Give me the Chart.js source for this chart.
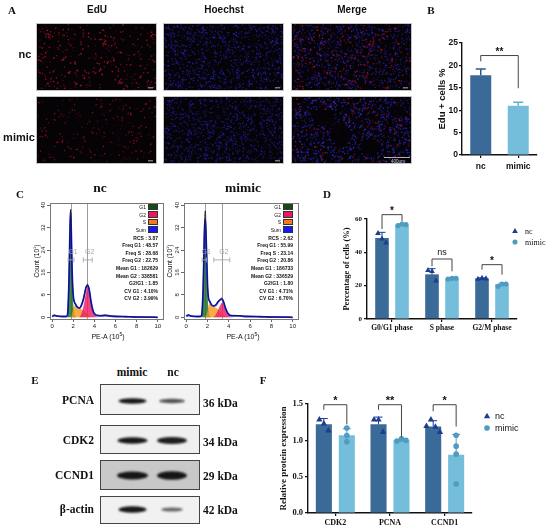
<!DOCTYPE html>
<html lang="en">
<head>
<meta charset="UTF-8" />
<title>EdU, cell cycle and protein expression</title>
<script src="https://cdn.jsdelivr.net/npm/chart.js@4.4.0/dist/chart.umd.min.js"></script>
<style>
  body { margin: 0; background: #fff; }
  #fig { position: relative; width: 550px; height: 532px; overflow: hidden; }
  #fig canvas { position: absolute; }
  .t { position: absolute; white-space: nowrap; line-height: 1; color: #111; }
</style>
</head>
<body>
<div id="fig">
  <canvas id="micro" width="420" height="170" style="left:0;top:0"></canvas>
  <canvas id="eduChart" width="115" height="152" style="left:430px;top:30px"></canvas>
  <canvas id="histNc" width="140" height="134" style="left:28px;top:198px"></canvas>
  <canvas id="histMimic" width="140" height="134" style="left:163px;top:198px"></canvas>
  <canvas id="phaseChart" width="212" height="140" style="left:338px;top:200px"></canvas>
  <canvas id="blot" width="110" height="150" style="left:95px;top:380px"></canvas>
  <canvas id="protChart" width="273" height="144" style="left:277px;top:388px"></canvas>
</div>
<script>
// ---------- data ----------
// B: EdU positive cells
const eduGroups = ['nc', 'mimic'];
const eduMean = [17.8, 11.0];
const eduSd = [1.4, 0.8];
const eduTicks = [0, 5, 10, 15, 20, 25];
const eduSig = '**';
const eduBracket = [22.2, 20.9, 14.9];

// C: PI histograms (PE-A in 10^5, count in 10^1)
const peA = [0, 0.2, 0.5, 1.0, 1.3, 1.4, 1.5, 1.6, 1.7, 1.75, 1.8, 1.9, 2.0, 2.1, 2.2, 2.4, 2.6, 2.8, 3.0, 3.2, 3.35, 3.5, 3.7, 3.9, 4.1, 4.3, 4.6, 5.0, 5.5, 6.0, 7.0, 8.0, 9.0, 10.0];
const ncData = [0.4, 0.9, 0.5, 0.3, 0.3, 0.5, 2.5, 14, 33, 38.5, 33, 15, 7.5, 5.5, 4.8, 3.6, 3.4, 4.6, 7.2, 10.8, 11.8, 10.2, 5.2, 2.2, 1.0, 0.8, 0.7, 0.9, 0.6, 0.4, 0.3, 0.2, 0.1, 0];
const ncSum = [0.3, 0.6, 0.4, 0.3, 0.3, 0.4, 2.6, 13.5, 32, 37.5, 32.5, 15.5, 7.8, 5.6, 4.8, 3.6, 3.3, 4.5, 7.0, 10.4, 11.4, 10.0, 5.3, 2.0, 0.9, 0.6, 0.5, 0.6, 0.4, 0.3, 0.2, 0.1, 0.1, 0];
const ncG1 = [0, 0, 0, 0, 0, 0, 2.5, 13, 31, 37, 32, 14, 5, 1.5, 0.3, 0, 0, 0, 0, 0, 0, 0, 0, 0, 0, 0, 0, 0, 0, 0, 0, 0, 0, 0];
const ncS = [0, 0, 0, 0, 0, 0, 0, 0, 0, 0, 0, 1.5, 2.8, 4.0, 4.5, 3.6, 3.2, 2.8, 2.4, 1.6, 1.0, 0.5, 0.1, 0, 0, 0, 0, 0, 0, 0, 0, 0, 0, 0];
const ncG2 = [0, 0, 0, 0, 0, 0, 0, 0, 0, 0, 0, 0, 0, 0, 0, 0, 0.1, 1.6, 4.5, 8.8, 10.4, 9.5, 5.2, 1.9, 0.5, 0.1, 0, 0, 0, 0, 0, 0, 0, 0];
const mimicData = [0.6, 1.0, 0.5, 0.3, 0.3, 0.4, 2.0, 11, 29, 36, 38, 26, 12, 6.8, 5.8, 4.4, 4.0, 4.6, 5.6, 6.5, 6.9, 5.8, 3.2, 1.6, 0.8, 0.7, 0.7, 0.6, 0.4, 0.3, 0.2, 0.2, 0.1, 0];
const mimicSum = [0.4, 0.7, 0.4, 0.3, 0.3, 0.4, 2.0, 10.5, 27, 33, 35, 25, 12, 6.8, 5.8, 4.4, 4.1, 4.4, 5.5, 6.3, 6.5, 5.6, 3.2, 1.5, 0.7, 0.5, 0.5, 0.5, 0.3, 0.3, 0.2, 0.1, 0.1, 0];
const mimicG1 = [0, 0, 0, 0, 0, 0, 2.0, 10.5, 27, 33, 34.5, 24, 10, 3, 0.8, 0, 0, 0, 0, 0, 0, 0, 0, 0, 0, 0, 0, 0, 0, 0, 0, 0, 0, 0];
const mimicS = [0, 0, 0, 0, 0, 0, 0, 0, 0, 0, 0, 1.0, 2.0, 3.8, 5.0, 4.4, 3.9, 3.4, 2.8, 2.0, 1.3, 0.8, 0.3, 0.1, 0, 0, 0, 0, 0, 0, 0, 0, 0, 0];
const mimicG2 = [0, 0, 0, 0, 0, 0, 0, 0, 0, 0, 0, 0, 0, 0, 0, 0, 0.2, 1.0, 2.7, 4.3, 5.2, 4.8, 2.9, 1.4, 0.5, 0.1, 0, 0, 0, 0, 0, 0, 0, 0];
const histXTicks = [0, 2, 4, 6, 8, 10];
const histYTicks = [0, 8, 16, 24, 32, 40];
const ncPeaks = [1.75, 3.33];
const ncGates = [[1.52, 2.07], [2.95, 3.8]];
const mimicPeaks = [1.81, 3.35];
const mimicGates = [[1.5, 1.9], [2.6, 4.1]];
const ncStats = ['RCS : 3.87', 'Freq G1 : 48.57', 'Freq S : 28.68', 'Freq G2 : 22.75', 'Mean G1 : 182629', 'Mean G2 : 338581', 'G2/G1 : 1.85', 'CV G1 : 4.10%', 'CV G2 : 3.99%'];
const mimicStats = ['RCS : 2.62', 'Freq G1 : 55.99', 'Freq S : 23.14', 'Freq G2 : 20.86', 'Mean G1 : 186733', 'Mean G2 : 336529', 'G2/G1 : 1.80', 'CV G1 : 4.71%', 'CV G2 : 6.70%'];

// D: cell cycle phases (%)
const phaseLabels = ['G0/G1 phase', 'S phase', 'G2/M phase'];
const phaseNcMean = [48.6, 26.8, 24.4];
const phaseMimicMean = [56.5, 24.3, 20.8];
const phaseNcSd = [3.4, 3.4, 0.3];
const phaseMimicSd = [0.4, 0.2, 0.7];
const phaseNcPts = [[51.6, 48.3, 46.0], [29.4, 28.8, 23.2], [24.2, 24.7, 24.4]];
const phaseMimicPts = [[56.0, 57.0, 56.6], [24.0, 24.4, 24.4], [19.6, 21.0, 21.0]];
const phaseTicks = [0, 20, 40, 60];
const phaseSig = ['*', 'ns', '*'];
const phaseBracket = [[62.6, 54, 58.6], [36, 31.6, 28.6], [32.6, 29.6, 26.6]];

// F: relative protein expression
const protLabels = ['CDK2', 'PCNA', 'CCND1'];
const protNcMean = [1.22, 1.22, 1.19];
const protMimicMean = [1.07, 1.00, 0.80];
const protNcSd = [0.08, 0.10, 0.08];
const protMimicSd = [0.09, 0.01, 0.28];
const protNcPts = [[1.29, 1.235, 1.14], [1.29, 1.29, 1.12], [1.20, 1.29, 1.19, 1.12]];
const protMimicPts = [[1.17, 1.065, 0.98], [0.99, 1.02, 1.0], [1.07, 0.92, 0.81, 0.40]];
const protTicks = [0, 0.5, 1.0, 1.5];
const protTickLabels = ['0.0', '0.5', '1.0', '1.5'];
const protSig = ['*', '**', '*'];
const protBracket = [[1.49, 1.42, 1.22], [1.49, 1.42, 1.04], [1.49, 1.40, 1.19]];

// ---------- styles ----------
const DARK = '#3a6a97', LIGHT = '#74bedb';
const TRI = '#1d3d8f', DOT = '#4e9cc0';
const TIMES = '"Times New Roman", "Liberation Serif", serif';
const ARIAL = 'Arial, "Liberation Sans", sans-serif';
const SERIF = 'font-family:' + TIMES + ';font-weight:bold;';
const SANS = 'font-family:' + ARIAL + ';font-weight:bold;';

Chart.defaults.animation = false;
Chart.defaults.responsive = false;
Chart.defaults.color = '#111';
Chart.defaults.font.family = ARIAL;
Chart.defaults.plugins.legend.display = false;
Chart.defaults.plugins.tooltip.enabled = false;

const fig = document.getElementById('fig');
function put(html, x, y, style, anchor, rot) {
  const d = document.createElement('div');
  d.className = 't';
  d.innerHTML = html;
  d.style.cssText += style;
  d.style.left = x + 'px';
  d.style.top = y + 'px';
  const tx = anchor === 'r' ? '-100%' : anchor === 'l' ? '0' : '-50%';
  d.style.transform = 'translate(' + tx + ',-50%)' + (rot ? ' rotate(' + rot + 'deg)' : '');
  fig.appendChild(d);
}

// ---------- panel A: micrographs (texture only) ----------
function speck(n) { const v = Math.sin(n * 127.1 + 311.7) * 43758.5453; return v - Math.floor(v); }
function cells(ctx, x0, y0, w, h, count, rgb, seed, size, aMin, aMax) {
  for (let i = 0; i < count; i++) {
    const px = x0 + speck(seed + i * 3) * (w - size), py = y0 + speck(seed + i * 3 + 1) * (h - size);
    const a = aMin + (aMax - aMin) * speck(seed + i * 3 + 2);
    ctx.fillStyle = 'rgba(' + rgb + ',' + a.toFixed(2) + ')';
    ctx.fillRect(px, py, size, size);
  }
}
(function drawMicro() {
  const ctx = document.getElementById('micro').getContext('2d');
  const cols = [36, 163, 291], rows = [23, 96], w = 121, h = 68;
  const RED = '200,22,34', BLUE = '42,42,205';
  // layer: colour, count, size, alpha range
  const panels = [
    [[RED, 330, 1.4, 0.2, 0.9]], [[BLUE, 1100, 1.3, 0.15, 0.75]], [[BLUE, 950, 1.3, 0.15, 0.75], [RED, 260, 1.4, 0.2, 0.85]],
    [[RED, 230, 1.3, 0.15, 0.75]], [[BLUE, 1050, 1.3, 0.15, 0.7]], [[BLUE, 950, 1.4, 0.2, 0.85], [RED, 150, 1.4, 0.2, 0.8]]
  ];
  panels.forEach((layers, k) => {
    const x = cols[k % 3], y = rows[Math.floor(k / 3)];
    ctx.fillStyle = '#050306';
    ctx.fillRect(x, y, w, h);
    layers.forEach((l, j) => cells(ctx, x + 1, y + 1, w - 2, h - 2, l[1], l[0], k * 5000 + j * 1700 + 11, l[2], l[3], l[4]));
    if (k === 5) {
      ctx.fillStyle = 'rgba(5,3,6,0.93)';
      [[324, 118, 11, 8], [341, 135, 11, 10], [370, 147, 10, 8], [398, 112, 8, 6]].forEach(e => {
        ctx.beginPath(); ctx.ellipse(e[0], e[1], e[2], e[3], 0, 0, Math.PI * 2); ctx.fill();
      });
    }
    ctx.strokeStyle = '#c4c4c4'; ctx.lineWidth = 1;
    ctx.strokeRect(x + 0.5, y + 0.5, w - 1, h - 1);
    ctx.fillStyle = '#777';
    if (k !== 5) ctx.fillRect(x + w - 9, y + h - 4, 5, 1.5);
  });
  ctx.strokeStyle = '#ddd'; ctx.lineWidth = 0.8;
  ctx.beginPath(); ctx.moveTo(384, 157.5); ctx.lineTo(410, 157.5); ctx.stroke();
  ctx.fillStyle = '#ccc'; ctx.font = '4.5px ' + ARIAL; ctx.textAlign = 'center';
  ctx.fillText('400μm', 398, 162.5);
})();
put('A', 12, 10, SERIF + 'font-size:11px;');
put('EdU', 97, 10, SANS + 'font-size:10px;');
put('Hoechst', 224, 10, SANS + 'font-size:10px;');
put('Merge', 352, 10, SANS + 'font-size:10px;');
put('nc', 25, 54, SANS + 'font-size:11px;');
put('mimic', 19, 137, SANS + 'font-size:11px;');

// ---------- shared plugin for bar panels ----------
function drawMarker(ctx, kind, x, y, r, color) {
  ctx.fillStyle = color;
  ctx.beginPath();
  if (kind === 'triangle') {
    ctx.moveTo(x, y - r); ctx.lineTo(x + r * 0.95, y + r * 0.7); ctx.lineTo(x - r * 0.95, y + r * 0.7); ctx.closePath();
  } else {
    ctx.arc(x, y, r * 0.85, 0, Math.PI * 2);
  }
  ctx.fill();
}
function itemsFor(ds, means, sds, pts, errColor, marker, markerColor) {
  return means.map((m, i) => ({ ds, i, mean: m, sd: sds[i], pts: pts ? pts[i] : null, errColor, marker, markerColor }));
}
const marksPlugin = {
  id: 'groupMarks',
  afterDatasetsDraw(chart, args, o) {
    const { ctx } = chart, y = chart.scales.y;
    ctx.save();
    o.items.forEach(it => {
      const x = chart.getDatasetMeta(it.ds).data[it.i].x;
      const y0 = y.getPixelForValue(it.mean), y1 = y.getPixelForValue(it.mean + it.sd);
      ctx.strokeStyle = it.errColor; ctx.lineWidth = o.errWidth;
      ctx.beginPath(); ctx.moveTo(x, y0); ctx.lineTo(x, y1);
      ctx.moveTo(x - o.cap, y1); ctx.lineTo(x + o.cap, y1); ctx.stroke();
      if (it.pts) {
        const py = it.pts.map(v => y.getPixelForValue(v));
        const spread = Math.max(...py) - Math.min(...py) < o.spreadPx;
        py.forEach((p, k) => {
          const px = x + (spread ? (k - (py.length - 1) / 2) * o.jitter : 0);
          drawMarker(ctx, it.marker, px, p, o.markerSize, it.markerColor);
        });
      }
    });
    o.brackets.forEach(b => {
      const xl = chart.getDatasetMeta(b.l[0]).data[b.l[1]].x;
      const xr = chart.getDatasetMeta(b.r[0]).data[b.r[1]].x;
      const yt = y.getPixelForValue(b.v[0]), yl = y.getPixelForValue(b.v[1]), yr = y.getPixelForValue(b.v[2]);
      ctx.strokeStyle = '#444'; ctx.lineWidth = 1;
      ctx.beginPath(); ctx.moveTo(xl, yl); ctx.lineTo(xl, yt); ctx.lineTo(xr, yt); ctx.lineTo(xr, yr); ctx.stroke();
      const star = b.text.indexOf('*') >= 0;
      ctx.fillStyle = '#111'; ctx.textAlign = 'center'; ctx.textBaseline = 'alphabetic';
      ctx.font = star ? o.starFont : o.nsFont;
      ctx.fillText(b.text, (xl + xr) / 2, star ? yt - 0.5 : yt - 4);
    });
    if (o.legend) {
      const L = o.legend;
      L.labels.forEach((lab, k) => {
        drawMarker(ctx, L.markers[k], L.x, L.y[k], o.markerSize, L.colors[k]);
        ctx.fillStyle = '#111'; ctx.font = L.font; ctx.textAlign = 'left'; ctx.textBaseline = 'middle';
        ctx.fillText(lab, L.tx, L.y[k] + 0.5);
      });
    }
    ctx.restore();
  }
};
function barScales(o) {
  return {
    x: {
      offset: true,
      grid: { display: true, drawOnChartArea: false, drawTicks: true, tickLength: 3, offset: false, color: '#111', tickColor: '#111', lineWidth: 1.2 },
      border: { display: true, color: '#111', width: 1.4 },
      ticks: { font: o.xFont, color: '#111', padding: o.xPad, maxRotation: 0, autoSkip: false },
      afterFit: s => { s.height = o.xHeight; }
    },
    y: {
      min: 0, max: o.yTicks[o.yTicks.length - 1],
      afterBuildTicks: s => { s.ticks = o.yTicks.map(v => ({ value: v })); },
      grid: { display: true, drawOnChartArea: false, drawTicks: true, tickLength: 3, color: '#111', tickColor: '#111', lineWidth: 1.2 },
      border: { display: true, color: '#111', width: 1.4 },
      ticks: { font: o.yFont, color: '#111', padding: o.yPad, callback: (v, i) => o.yLabels[i] },
      title: { display: true, text: o.yTitle, font: o.titleFont, color: '#111', padding: { top: o.titlePad, bottom: 0 } },
      afterFit: s => { s.width = o.yWidth; }
    }
  };
}

// ---------- panel B ----------
new Chart(document.getElementById('eduChart'), {
  type: 'bar',
  data: { labels: eduGroups, datasets: [{ data: eduMean, backgroundColor: [DARK, LIGHT], categoryPercentage: 1, barPercentage: 0.56 }] },
  options: {
    layout: { padding: { top: 13, right: 8, left: 0, bottom: 0 } },
    scales: barScales({
      yTicks: eduTicks, yLabels: eduTicks.map(String), yTitle: 'Edu + cells %',
      yFont: { family: ARIAL, size: 8.5, weight: 'bold' }, xFont: { family: ARIAL, size: 8.5, weight: 'bold' },
      titleFont: { family: ARIAL, size: 9.5, weight: 'bold' }, titlePad: 7, yWidth: 32, xHeight: 27, yPad: 1, xPad: 4
    }),
    plugins: {
      groupMarks: {
        items: [
          { ds: 0, i: 0, mean: eduMean[0], sd: eduSd[0], errColor: '#2c5a86' },
          { ds: 0, i: 1, mean: eduMean[1], sd: eduSd[1], errColor: '#5fb0d0' }
        ],
        errWidth: 1.5, cap: 5, markerSize: 3, spreadPx: 12, jitter: 4,
        brackets: [{ l: [0, 0], r: [0, 1], v: eduBracket, text: eduSig }],
        starFont: 'bold 10px ' + ARIAL, nsFont: '9px ' + ARIAL
      }
    }
  },
  plugins: [marksPlugin]
});
put('B', 431, 10, SERIF + 'font-size:11px;');

// ---------- panel C: histograms ----------
const histPlugin = {
  id: 'histExtras',
  beforeDatasetsDraw(chart, args, o) {
    const { ctx, chartArea: a } = chart, x = chart.scales.x;
    ctx.save();
    ctx.strokeStyle = '#9c9c9c'; ctx.lineWidth = 1;
    o.peaks.forEach(p => {
      const px = Math.round(x.getPixelForValue(p)) + 0.5;
      ctx.beginPath(); ctx.moveTo(px, a.top); ctx.lineTo(px, a.bottom); ctx.stroke();
    });
    ctx.restore();
  },
  afterDraw(chart, args, o) {
    const { ctx, chartArea: a } = chart, x = chart.scales.x, y = chart.scales.y;
    ctx.save();
    ctx.strokeStyle = '#777'; ctx.lineWidth = 1;
    ctx.strokeRect(Math.round(a.left) + 0.5, Math.round(a.top) + 0.5, Math.round(a.right - a.left), Math.round(a.bottom - a.top));
    ctx.strokeStyle = '#a8a8a8'; ctx.fillStyle = '#a8a8a8'; ctx.lineWidth = 0.9;
    ctx.font = '7px ' + ARIAL; ctx.textAlign = 'center'; ctx.textBaseline = 'middle';
    o.gates.forEach((g, i) => {
      const x0 = x.getPixelForValue(g[0]), x1 = x.getPixelForValue(g[1]), yy = y.getPixelForValue(o.gateY);
      ctx.beginPath(); ctx.moveTo(x0, yy); ctx.lineTo(x1, yy);
      ctx.moveTo(x0, yy - 2.5); ctx.lineTo(x0, yy + 2.5); ctx.moveTo(x1, yy - 2.5); ctx.lineTo(x1, yy + 2.5); ctx.stroke();
      ctx.fillText(o.gateNames[i], (x0 + x1) / 2 + 2, y.getPixelForValue(o.gateY + 2.8));
    });
    ctx.fillStyle = '#222'; ctx.font = '6px ' + ARIAL;
    y.ticks.forEach(t => {
      ctx.save();
      ctx.translate(a.left - 7, y.getPixelForValue(t.value));
      ctx.rotate(-Math.PI / 2);
      ctx.fillText(String(t.value), 0, 0);
      ctx.restore();
    });
    ctx.restore();
  }
};
function histConfig(data, sum, g1, s, g2, peaks, gates, yWidth) {
  const pts = arr => peA.map((v, i) => ({ x: v, y: arr[i] }));
  const area = (arr, color) => ({ data: pts(arr), borderWidth: 0, backgroundColor: color, fill: 'origin', pointRadius: 0, cubicInterpolationMode: 'monotone' });
  return {
    type: 'line',
    data: { datasets: [
      { data: pts(data), borderColor: '#111', borderWidth: 0.8, pointRadius: 0, fill: false, cubicInterpolationMode: 'monotone' },
      { data: pts(sum), borderColor: '#1a22ff', borderWidth: 1.8, pointRadius: 0, fill: false, cubicInterpolationMode: 'monotone' },
      area(g2, 'rgba(238,28,100,0.82)'),
      area(s, 'rgba(248,150,25,0.8)'),
      area(g1, 'rgba(28,118,38,0.85)')
    ] },
    options: {
      layout: { padding: { top: 5, right: 5, left: 0, bottom: 0 } },
      scales: {
        x: {
          type: 'linear', min: -0.2, max: 10.5,
          afterBuildTicks: sc => { sc.ticks = histXTicks.map(v => ({ value: v })); },
          ticks: { font: { size: 6 }, color: '#222', padding: 1, maxRotation: 0 },
          grid: { display: true, drawOnChartArea: false, tickLength: 3, color: '#666', tickColor: '#666' },
          border: { display: false },
          afterFit: sc => { sc.height = 13; }
        },
        y: {
          min: -0.6, max: 40.8,
          afterBuildTicks: sc => { sc.ticks = histYTicks.map(v => ({ value: v })); },
          ticks: { display: false },
          grid: { display: true, drawOnChartArea: false, tickLength: 3, color: '#666', tickColor: '#666' },
          border: { display: false },
          afterFit: sc => { sc.width = yWidth; }
        }
      },
      plugins: { histExtras: { peaks, gates, gateNames: ['G1', 'G2'], gateY: 20.5 } }
    },
    plugins: [histPlugin]
  };
}
new Chart(document.getElementById('histNc'), histConfig(ncData, ncSum, ncG1, ncS, ncG2, ncPeaks, ncGates, 22));
new Chart(document.getElementById('histMimic'), histConfig(mimicData, mimicSum, mimicG1, mimicS, mimicG2, mimicPeaks, mimicGates, 21));

const histKey = ['G1', 'G2', 'S', 'Sum'];
const histKeyColors = ['#114d14', '#ef165f', '#f47a18', '#1616ff'];
[[158, ncStats, 37, 108], [293, mimicStats, 170, 243]].forEach(([right, stats, cx, px]) => {
  histKey.forEach((k, i) => {
    const b = document.createElement('div');
    b.style.cssText = 'position:absolute;width:10px;height:6.5px;border:0.5px solid #333;box-sizing:border-box;background:' + histKeyColors[i] + ';left:' + (right - 10) + 'px;top:' + (203.5 + i * 7.5) + 'px;';
    fig.appendChild(b);
    put(k, right - 12, 207 + i * 7.5, 'font-family:' + ARIAL + ';font-size:5px;', 'r');
  });
  stats.forEach((s, i) => put(s, right, 237.5 + i * 7.6, 'font-family:' + ARIAL + ';font-weight:bold;font-size:5px;', 'r'));
  put('Count (10<sup style="font-size:4px">1</sup>)', cx, 261, 'font-family:' + ARIAL + ';font-size:6.5px;', 'c', -90);
  put('PE-A (10<sup style="font-size:5px">5</sup>)', px, 336, 'font-family:' + ARIAL + ';font-size:7px;');
});
put('C', 20, 194, SERIF + 'font-size:11px;');
put('nc', 100, 188, SERIF + 'font-size:13.5px;');
put('mimic', 243, 188, SERIF + 'font-size:13.5px;');

// ---------- panel D ----------
new Chart(document.getElementById('phaseChart'), {
  type: 'bar',
  data: { labels: phaseLabels, datasets: [
    { data: phaseNcMean, backgroundColor: DARK, categoryPercentage: 0.8, barPercentage: 0.68 },
    { data: phaseMimicMean, backgroundColor: LIGHT, categoryPercentage: 0.8, barPercentage: 0.68 }
  ] },
  options: {
    layout: { padding: { top: 19, right: 33, left: 0, bottom: 0 } },
    scales: barScales({
      yTicks: phaseTicks, yLabels: phaseTicks.map(String), yTitle: 'Percentage of cells (%)',
      yFont: { family: TIMES, size: 7, weight: 'bold' }, xFont: { family: TIMES, size: 7.5, weight: 'bold' },
      titleFont: { family: TIMES, size: 8.5, weight: 'bold' }, titlePad: 4, yWidth: 29, xHeight: 21, yPad: 2, xPad: 2
    }),
    plugins: {
      groupMarks: {
        items: itemsFor(0, phaseNcMean, phaseNcSd, phaseNcPts, '#1d3d8f', 'triangle', TRI)
          .concat(itemsFor(1, phaseMimicMean, phaseMimicSd, phaseMimicPts, '#4e9cc0', 'circle', DOT)),
        errWidth: 1, cap: 3.5, markerSize: 3, spreadPx: 13, jitter: 4,
        brackets: phaseSig.map((s, i) => ({ l: [0, i], r: [1, i], v: phaseBracket[i], text: s })),
        starFont: 'bold 10px ' + ARIAL, nsFont: '9px ' + ARIAL,
        legend: { labels: ['nc', 'mimic'], markers: ['triangle', 'circle'], colors: [TRI, DOT], x: 177, tx: 187, y: [31, 42], font: '8px ' + TIMES }
      }
    }
  },
  plugins: [marksPlugin]
});
put('D', 327, 194, SERIF + 'font-size:11px;');

// ---------- panel E: western blot (image) ----------
(function drawBlot() {
  const ctx = document.getElementById('blot').getContext('2d');
  const ox = 95, oy = 380;
  const rows = [
    { top: 384, h: 31, bg: '#f2f2f2', cy: 401, bands: [[0.95, 28, 5.5], [0.7, 26, 4.5]] },
    { top: 425, h: 29, bg: '#efefef', cy: 440.5, bands: [[0.95, 30, 6.5], [0.92, 30, 7]] },
    { top: 460, h: 30, bg: '#c8c8c8', cy: 475.5, bands: [[0.95, 31, 8], [0.95, 30, 8.5]] },
    { top: 496, h: 28, bg: '#f1f1f1', cy: 509.5, bands: [[0.95, 28, 6.5], [0.6, 22, 4]] }
  ];
  const laneX = [132.5, 172];
  rows.forEach(r => {
    ctx.fillStyle = r.bg;
    ctx.fillRect(100 - ox, r.top - oy, 100, r.h);
    r.bands.forEach((b, j) => {
      ctx.save();
      ctx.filter = 'blur(1.3px)';
      ctx.fillStyle = 'rgba(12,12,12,' + b[0] + ')';
      ctx.beginPath();
      ctx.ellipse(laneX[j] - ox, r.cy - oy, b[1] / 2, b[2] / 2, 0, 0, Math.PI * 2);
      ctx.fill();
      ctx.restore();
    });
    ctx.strokeStyle = '#444'; ctx.lineWidth = 1;
    ctx.strokeRect(100.5 - ox, r.top + 0.5 - oy, 99, r.h - 1);
  });
})();
put('E', 35, 380, SERIF + 'font-size:11px;');
put('mimic', 132, 373, SERIF + 'font-size:11.5px;');
put('nc', 173, 373, SERIF + 'font-size:11.5px;');
[['PCNA', 401, '36 kDa', 404], ['CDK2', 441, '34 kDa', 443], ['CCND1', 476, '29 kDa', 477], ['β-actin', 510, '42 kDa', 511]].forEach(r => {
  put(r[0], 94, r[1], SERIF + 'font-size:11.5px;', 'r');
  put(r[2], 203, r[3], SERIF + 'font-size:11.5px;', 'l');
});

// ---------- panel F ----------
new Chart(document.getElementById('protChart'), {
  type: 'bar',
  data: { labels: protLabels, datasets: [
    { data: protNcMean, backgroundColor: DARK, categoryPercentage: 0.84, barPercentage: 0.7 },
    { data: protMimicMean, backgroundColor: LIGHT, categoryPercentage: 0.84, barPercentage: 0.7 }
  ] },
  options: {
    layout: { padding: { top: 16, right: 78, left: 0, bottom: 0 } },
    scales: barScales({
      yTicks: protTicks, yLabels: protTickLabels, yTitle: 'Relative protein expression',
      yFont: { family: TIMES, size: 8.5, weight: 'bold' }, xFont: { family: TIMES, size: 8, weight: 'bold' },
      titleFont: { family: TIMES, size: 9, weight: 'bold' }, titlePad: 1, yWidth: 31, xHeight: 19, yPad: 2, xPad: 2
    }),
    plugins: {
      groupMarks: {
        items: itemsFor(0, protNcMean, protNcSd, protNcPts, '#1d3d8f', 'triangle', TRI)
          .concat(itemsFor(1, protMimicMean, protMimicSd, protMimicPts, '#4e9cc0', 'circle', DOT)),
        errWidth: 1, cap: 4, markerSize: 3.3, spreadPx: 13, jitter: 4.5,
        brackets: protSig.map((s, i) => ({ l: [0, i], r: [1, i], v: protBracket[i], text: s })),
        starFont: 'bold 11px ' + ARIAL, nsFont: '9px ' + ARIAL,
        legend: { labels: ['nc', 'mimic'], markers: ['triangle', 'circle'], colors: [TRI, DOT], x: 210, tx: 218, y: [28, 40], font: '9px ' + ARIAL }
      }
    }
  },
  plugins: [marksPlugin]
});
put('F', 263, 380, SERIF + 'font-size:11px;');
</script>
</body>
</html>
